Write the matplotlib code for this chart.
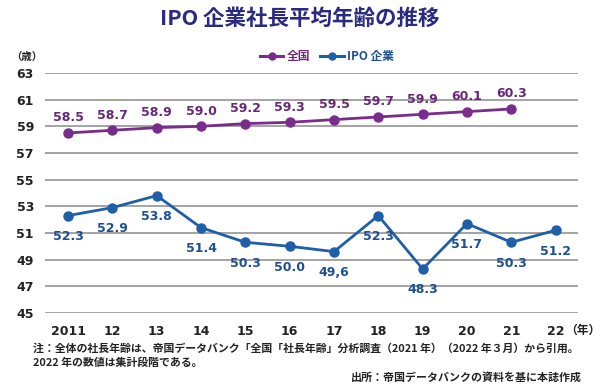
import matplotlib
matplotlib.use("Agg")
import matplotlib.pyplot as plt
from matplotlib.lines import Line2D

plt.rcParams['font.family'] = ['Noto Sans CJK JP', 'DejaVu Sans']

years = ["2011", "12", "13", "14", "15", "16", "17", "18", "19", "20", "21", "22"]
national = [58.5, 58.7, 58.9, 59.0, 59.2, 59.3, 59.5, 59.7, 59.9, 60.1, 60.3]
ipo = [52.3, 52.9, 53.8, 51.4, 50.3, 50.0, 49.6, 52.3, 48.3, 51.7, 50.3, 51.2]
ipo_labels = ["52.3", "52.9", "53.8", "51.4", "50.3", "50.0", "49,6", "52.3", "48.3", "51.7", "50.3", "51.2"]
yticks = [45, 47, 49, 51, 53, 55, 57, 59, 61, 63]

purple = "#7a2c8c"
purple_txt = "#6a2679"
blue = "#1f5ea8"
blue_txt = "#1d4f93"
title_c = "#2b2a80"
num_font = ['DejaVu Sans']

fig = plt.figure(figsize=(6, 3.84), dpi=100)
ax = fig.add_axes([0.075, 0.185, 0.888, 0.625])

xs = list(range(len(years)))
ax.set_xlim(-0.52, len(years) - 0.5)
ax.set_ylim(45, 63)
for y in yticks:
    ax.axhline(y, color="#8a8a8a", lw=1.1, zorder=1)
for s in ax.spines.values():
    s.set_visible(False)

ax.plot(xs[:len(national)], national, color=purple, lw=2.0, marker="o", ms=6.5, zorder=3)
ax.plot(xs, ipo, color=blue, lw=2.0, marker="o", ms=6.5, zorder=3)

for x, v in zip(xs, national):
    ax.annotate(f"{v:.1f}", (x, v), xytext=(0, 11), textcoords="offset points",
                ha="center", va="center", fontsize=9, fontweight="bold", color=purple_txt,
                family=num_font)
for x, v, t in zip(xs, ipo, ipo_labels):
    ax.annotate(t, (x, v), xytext=(0, -15), textcoords="offset points",
                ha="center", va="center", fontsize=9, fontweight="bold", color=blue_txt,
                family=num_font)

ax.set_yticks(yticks)
ax.set_yticklabels([str(y) for y in yticks], fontsize=9, fontweight="bold", color="#222222",
                   family=num_font)
ax.set_xticks(xs)
ax.set_xticklabels(years, fontsize=9, fontweight="bold", color="#222222", family=num_font)
ax.tick_params(axis="y", length=0, pad=8)
ax.tick_params(axis="x", length=0, pad=9)

fig.text(0.5, 0.953, "IPO 企業社長平均年齢の推移", ha="center", va="center",
         fontsize=15.5, fontweight="bold", color=title_c)
fig.text(0.045, 0.852, "（歳）", ha="center", va="center", fontsize=7.5, fontweight="bold", color="#222222")
fig.text(0.972, 0.14, "（年）", ha="center", va="center", fontsize=8.5, fontweight="bold", color="#222222")

handles = [Line2D([], [], color=purple, lw=2.2, marker="o", ms=5),
           Line2D([], [], color=blue, lw=2.2, marker="o", ms=5)]
leg = fig.legend(handles, ["全国", "IPO 企業"], loc="center", bbox_to_anchor=(0.545, 0.852),
                 ncol=2, frameon=False, handlelength=2.0, handletextpad=0.3, columnspacing=0.8,
                 prop={"size": 8.5, "weight": "bold"})
for t, c in zip(leg.get_texts(), [purple_txt, blue_txt]):
    t.set_color(c)

fig.text(0.055, 0.093, "注：全体の社長年齢は、帝国データバンク「全国「社長年齢」分析調査（2021 年）（2022 年３月）から引用。",
         ha="left", va="center", fontsize=7.85, fontweight="bold", color="#222222")
fig.text(0.055, 0.055, "2022 年の数値は集計段階である。",
         ha="left", va="center", fontsize=7.85, fontweight="bold", color="#222222")
fig.text(0.97, 0.018, "出所：帝国データバンクの資料を基に本誌作成",
         ha="right", va="center", fontsize=7.9, fontweight="bold", color="#222222")

fig.savefig("out.png", dpi=100, facecolor="white")
